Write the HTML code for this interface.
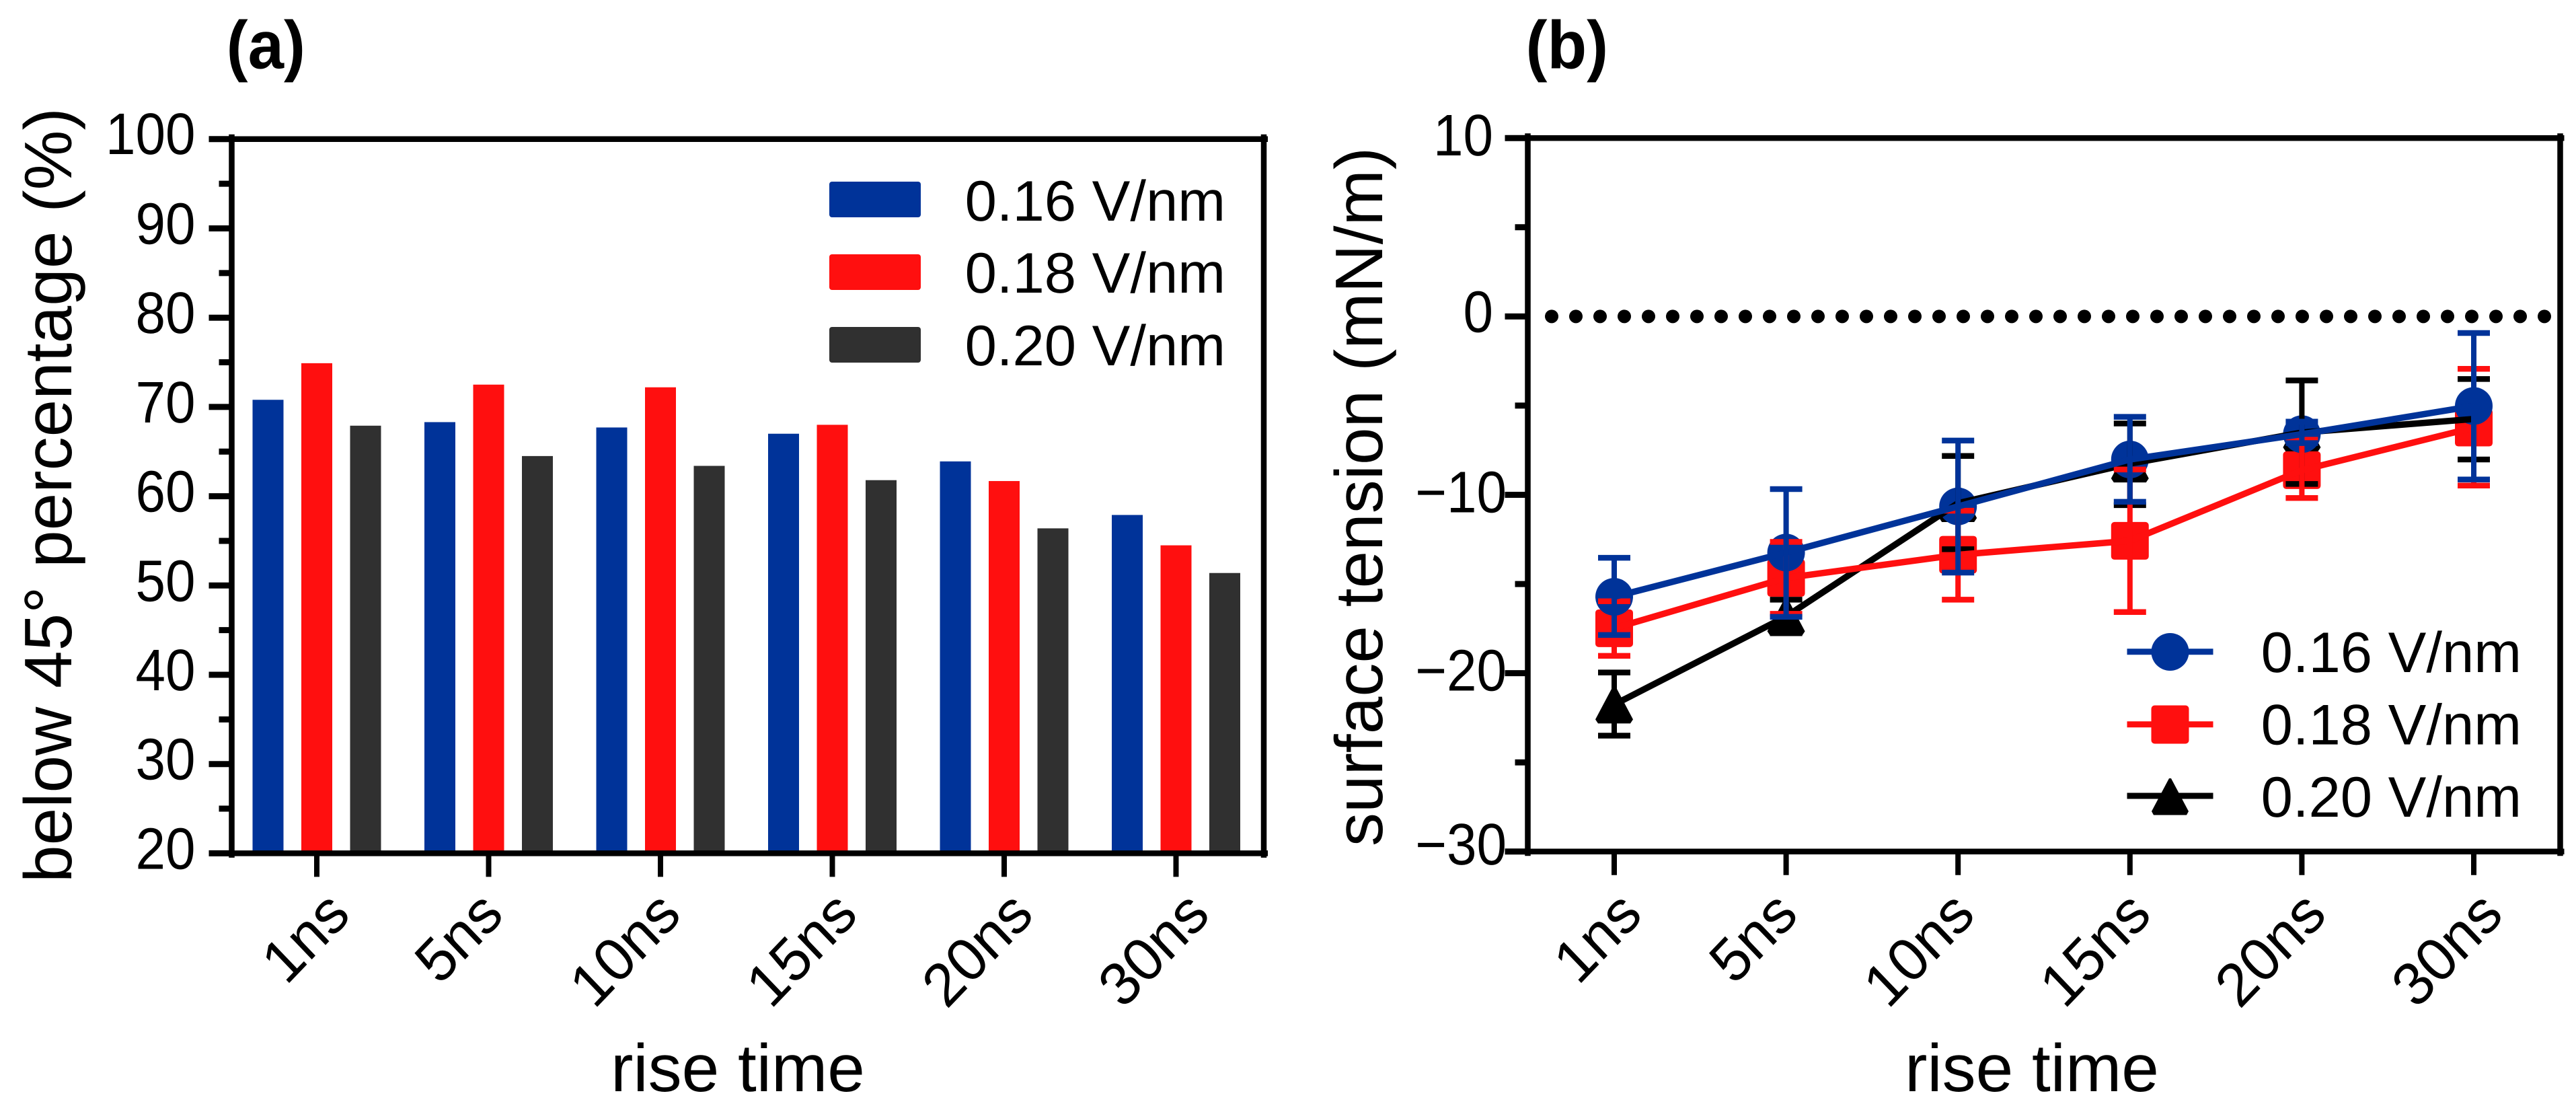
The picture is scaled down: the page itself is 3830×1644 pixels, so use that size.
<!DOCTYPE html>
<html lang="en">
<head>
<meta charset="utf-8">
<title>Rise time charts</title>
<style>
html,body{margin:0;padding:0;background:#fff;width:3830px;height:1644px;overflow:hidden}
svg{display:block;position:absolute;left:0;top:0}
text{font-family:"Liberation Sans",sans-serif;fill:#000;text-rendering:geometricPrecision}
.t80{font-size:80px}
.t84{font-size:84px}
.t85{font-size:85px}
.t100{font-size:100px}
.tb{font-size:96px;font-weight:bold}
</style>
</head>
<body>
<svg id="figure" xmlns="http://www.w3.org/2000/svg" width="3830" height="1644" viewBox="0 0 3830 1644">
  <rect x="0" y="0" width="3830" height="1644" fill="#fff"/>
  <text class="tb" transform="translate(336.6,101.5) scale(1,1.05)">(a)</text>
  <text class="tb" transform="translate(2268.5,101.5) scale(1,1.05)">(b)</text>
  <text class="t100" transform="translate(106,1312) rotate(-90)">below 45° percentage (%)</text>
  <text class="t100" transform="translate(2055,1258) rotate(-90)">surface tension (mN/m)</text>
  <text class="t100" x="1097" y="1622" text-anchor="middle">rise time</text>
  <text class="t100" x="3021" y="1622" text-anchor="middle">rise time</text>

  <g id="plotA"></g>
  <g id="plotB"></g>

  <g>
    <g>
      <rect x="1233" y="270" width="136" height="53" rx="4" fill="#003399"/>
      <text class="t85" x="1434.6" y="328">0.16 V/nm</text>
    </g>
    <g>
      <rect x="1233" y="378" width="136" height="53" rx="4" fill="#ff0f0f"/>
      <text class="t85" x="1434.6" y="435">0.18 V/nm</text>
    </g>
    <g>
      <rect x="1233" y="486" width="136" height="53" rx="4" fill="#303030"/>
      <text class="t85" x="1434.6" y="543">0.20 V/nm</text>
    </g>
  </g>

  <g>
    <g>
      <line x1="3162.5" x2="3290.5" y1="968.7" y2="968.7" stroke="#003399" stroke-width="9"/>
      <circle cx="3226.5" cy="969" r="28" fill="#003399"/>
      <text class="t85" x="3361.6" y="999">0.16 V/nm</text>
    </g>
    <g>
      <line x1="3162.5" x2="3290.5" y1="1076.7" y2="1076.7" stroke="#ff0f0f" stroke-width="9"/>
      <rect x="3198.5" y="1048.5" width="56" height="57" rx="5" fill="#ff0f0f"/>
      <text class="t85" x="3361.6" y="1106.7">0.18 V/nm</text>
    </g>
    <g>
      <line x1="3162.5" x2="3290.5" y1="1183" y2="1183" stroke="#000" stroke-width="9"/>
      <polygon points="3225,1157 3228,1157 3254,1206 3251,1211.5 3202,1211.5 3199,1206" fill="#000"/>
      <text class="t85" x="3361.6" y="1214">0.20 V/nm</text>
    </g>
  </g>
</svg>
<script>
// ---- chart data ----
const categories = ['1ns', '5ns', '10ns', '15ns', '20ns', '30ns'];

// panel (a): below 45° percentage
const barTicks = [20, 30, 40, 50, 60, 70, 80, 90, 100];
const barMinorTicks = [25, 35, 45, 55, 65, 75, 85, 95];
const barBlue = [70.8, 68.3, 67.7, 67.0, 63.9, 57.9];
const barRed = [74.9, 72.5, 72.2, 68.0, 61.7, 54.5];
const barDark = [67.9, 64.5, 63.4, 61.8, 56.4, 51.4];

// panel (b): surface tension
const lineTicks = [10, 0, -10, -20, -30];
const lineTickLabels = ['10', '0', '\u221210', '\u221220', '\u221230'];
const lineMinorTicks = [5, -5, -15, -25];
const referenceLevel = [0];
const lineBlue = [-15.72, -13.24, -10.65, -8.02, -6.6, -5.02];
const lineBlueHigh = [-13.53, -9.68, -6.96, -5.63, -5.9, -0.93];
const lineBlueLow = [-17.86, -16.84, -14.36, -10.39, -7.1, -9.14];
const lineRed = [-17.48, -14.66, -13.36, -12.58, -8.62, -6.23];
const lineRedHigh = [-15.97, -12.64, -10.89, -8.58, -6.91, -2.94];
const lineRedLow = [-19.03, -16.67, -15.88, -16.57, -10.18, -9.48];
const lineBlack = [-21.76, -16.82, -10.47, -8.25, -6.51, -5.75];
const lineBlackHigh = [-19.96, -15.88, -7.82, -6.0, -3.59, -3.51];
const lineBlackLow = [-23.5, -17.76, -13.05, -10.58, -9.39, -8.02];

// ---- layout ----
const COL_BLUE = '#003399', COL_RED = '#ff0f0f', COL_DARK = '#303030', COL_BLACK = '#000';
const SVGNS = 'http://www.w3.org/2000/svg';
const labelNudgeA = [48, 20.5, 29, 36, 42, 48.5];
const labelNudgeB = [40, 16, 23.5, 30, 35, 42];
const tickLabelDropB = [26, 23, 26, 26, 19];

function xA(i) { return 471 + 255.5 * i; }
function yA(v) { return 1268.4 - (v - 20) * 13.27; }
function xB(i) { return 2400 + 255.6 * i; }
function yB(v) { return 470.35 - v * 26.515; }

function mk(tag, attrs, parent) {
  const e = document.createElementNS(SVGNS, tag);
  for (const k in attrs) e.setAttribute(k, attrs[k]);
  parent.appendChild(e);
  return e;
}
function ln(x1, y1, x2, y2, color, w, parent) {
  return mk('line', { x1: x1, y1: y1, x2: x2, y2: y2, stroke: color, 'stroke-width': w }, parent);
}

const plotA = document.getElementById('plotA');
const plotB = document.getElementById('plotB');

// ---- panel (a) bars ----
const barSeries = [
  { name: '016', values: barBlue, color: COL_BLUE, off: -72.5 },
  { name: '018', values: barRed, color: COL_RED, off: 0 },
  { name: '020', values: barDark, color: COL_DARK, off: 72.5 }
];
barSeries.forEach(function (s) {
  s.values.forEach(function (v, i) {
    const top = yA(v);
    const bar = mk('rect', { x: xA(i) + s.off - 23, y: top, width: 46, height: yA(20) - top, fill: s.color }, plotA);
    
    
  });
});

// ---- frames and ticks ----
function frame(parent, prefix, left, right, top, bottom, xf, yf, majors, minors, nudge) {
  const a1 = ln(left, top - 7, left, bottom + 6.5, '#000', 8.5, parent);
  
  
  const a2 = ln(right, top - 7, right, bottom + 6.5, '#000', 8.5, parent);
  
  
  const a3 = ln(left - 34, top, right + 6, top, '#000', 8.5, parent);
  
  
  const a4 = ln(left - 34, bottom, right + 6, bottom, '#000', 8.5, parent);
  
  
  majors.forEach(function (v) {
    const t = ln(left - 34, yf(v), left, yf(v), '#000', 9, parent);
    
    
  });
  minors.forEach(function (v) {
    const t = ln(left - 19, yf(v), left, yf(v), '#000', 9, parent);
    
    
  });
  categories.forEach(function (c, i) {
    const t = ln(xf(i), bottom, xf(i), bottom + 35, '#000', 8, parent);
    
    
    const x = xf(i) + nudge[i] + 5;
    const y = 1363;
    const lab = mk('text', { 'class': 't84', 'text-anchor': 'end', transform: 'translate(' + x + ',' + y + ') scale(1.03,1.075) rotate(-45)' }, parent);
    lab.textContent = c;
    
    
  });
}
frame(plotA, 'panel-a', 344.5, 1879, yA(100), yA(20), xA, yA, barTicks, barMinorTicks, labelNudgeA);
frame(plotB, 'panel-b', 2271.5, 3806.5, yB(10), yB(-30), xB, yB, lineTicks, lineMinorTicks, labelNudgeB);

barTicks.forEach(function (v) {
  const lab = mk('text', { 'class': 't80', 'text-anchor': 'end', transform: 'translate(290.5,' + (yA(v) + (v === 100 ? 22 : 23)) + ') scale(1,1.09)' }, plotA);
  lab.textContent = String(v);
  
  
});
lineTicks.forEach(function (v, i) {
  const lx = v < 0 ? 2240 : 2220;
  const lab = mk('text', { 'class': 't80', 'text-anchor': 'end', transform: 'translate(' + lx + ',' + (yB(v) + tickLabelDropB[i]) + ') scale(1,1.09)' }, plotB);
  lab.textContent = lineTickLabels[i];
  
  
});

// ---- panel (b) reference line ----
referenceLevel.forEach(function (v) {
  const dots = mk('line', { x1: 2307, x2: 3785, y1: yB(v), y2: yB(v), stroke: '#000', 'stroke-width': 20, 'stroke-linecap': 'round', 'stroke-dasharray': '0 36' }, plotB);
  
  
});

// ---- panel (b) series ----
const lineSeries = [
  { name: '020', values: lineBlack, high: lineBlackHigh, low: lineBlackLow, color: COL_BLACK, shape: 'triangle' },
  { name: '018', values: lineRed, high: lineRedHigh, low: lineRedLow, color: COL_RED, shape: 'square' },
  { name: '016', values: lineBlue, high: lineBlueHigh, low: lineBlueLow, color: COL_BLUE, shape: 'circle' }
];

// markers sit underneath all lines and error bars
lineSeries.forEach(function (s) {
  s.values.forEach(function (v, i) {
    const cx = xB(i), cy = yB(v);
    let m;
    if (s.shape === 'circle') {
      m = mk('circle', { cx: cx, cy: cy, r: 28, fill: s.color }, plotB);
    } else if (s.shape === 'square') {
      m = mk('rect', { x: cx - 28, y: cy - 28, width: 56, height: 56, rx: 5, fill: s.color }, plotB);
    } else {
      const pts = [[-1.5, -28], [1.5, -28], [28, 22], [24, 28], [-24, 28], [-28, 22]]
        .map(function (p) { return (cx + p[0]) + ',' + (cy + p[1]); }).join(' ');
      m = mk('polygon', { points: pts, fill: s.color }, plotB);
    }
    
    
  });
});

lineSeries.forEach(function (s) {
  const pts = s.values.map(function (v, i) { return xB(i) + ',' + yB(v); }).join(' ');
  const pl = mk('polyline', { points: pts, fill: 'none', stroke: s.color, 'stroke-width': 9.5 }, plotB);
  
  
  s.values.forEach(function (v, i) {
    const x = xB(i), hi = yB(s.high[i]), lo = yB(s.low[i]);
    const stem = ln(x, hi, x, lo, s.color, 8, plotB);
    
    
    const capHi = ln(x - 24, hi, x + 24, hi, s.color, 8.5, plotB);
    
    
    const capLo = ln(x - 24, lo, x + 24, lo, s.color, 8.5, plotB);
    
    
  });
});
</script>
</body>
</html>
